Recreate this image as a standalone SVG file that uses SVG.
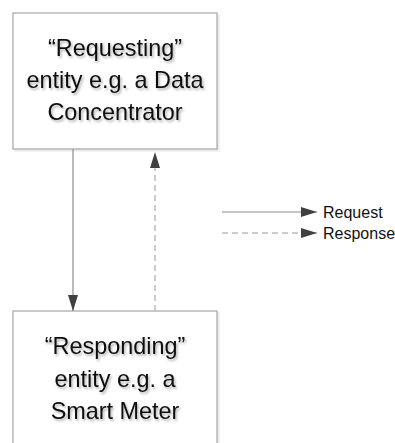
<svg xmlns="http://www.w3.org/2000/svg" width="395" height="443" viewBox="0 0 395 443">
  <defs>
    <filter id="sh" x="-10%" y="-10%" width="130%" height="140%">
      <feDropShadow dx="1.5" dy="2" stdDeviation="0.9" flood-color="#000" flood-opacity="0.3"/>
    </filter>
    <filter id="bsh" x="-5%" y="-5%" width="115%" height="115%">
      <feDropShadow dx="2" dy="2" stdDeviation="0.6" flood-color="#000" flood-opacity="0.08"/>
    </filter>
    <marker id="ah" markerWidth="16" markerHeight="10" refX="16" refY="5" orient="auto" markerUnits="userSpaceOnUse">
      <path d="M0,0 L16,5 L0,10 Z" fill="#404040"/>
    </marker>
  </defs>
  <style>
    .box { fill: #ffffff; stroke: #a6a6a6; stroke-width: 1.2; }
    .lbl { font-family: "Liberation Sans", Arial, sans-serif; font-size: 23.4px; fill: #111; text-anchor: middle; }
    .leg { font-family: "Liberation Sans", Arial, sans-serif; font-size: 16px; fill: #111; }
    .req { stroke: #8c8c8c; stroke-width: 1.2; fill: none; }
    .rsp { stroke: #bdbdbd; stroke-width: 1.5; fill: none; stroke-dasharray: 6 4; }
  </style>
  <rect width="395" height="443" fill="#ffffff"/>
  <g id="requesting">
    <rect class="box" x="13" y="13" width="204" height="136" filter="url(#bsh)"/>
    <g filter="url(#sh)">
      <text class="lbl" x="115" y="56">“Requesting”</text>
      <text class="lbl" x="115" y="88">entity e.g. a Data</text>
      <text class="lbl" x="115" y="120">Concentrator</text>
    </g>
  </g>
  <g id="responding">
    <rect class="box" x="13" y="311" width="204" height="150" filter="url(#bsh)"/>
    <g filter="url(#sh)">
      <text class="lbl" x="115" y="354">“Responding”</text>
      <text class="lbl" x="115" y="387">entity e.g. a</text>
      <text class="lbl" x="115" y="419">Smart Meter</text>
    </g>
  </g>
  <g id="connectors">
    <line class="req" x1="73" y1="149" x2="73" y2="311" marker-end="url(#ah)"/>
    <line class="rsp" x1="155" y1="311" x2="155" y2="152" marker-end="url(#ah)"/>
  </g>
  <g id="legend">
    <line class="req" x1="222" y1="212" x2="317" y2="212" marker-end="url(#ah)"/>
    <text class="leg" x="323" y="217.5">Request</text>
    <line class="rsp" x1="222" y1="233" x2="317" y2="233" marker-end="url(#ah)"/>
    <text class="leg" x="323" y="238.5">Response</text>
  </g>
</svg>
